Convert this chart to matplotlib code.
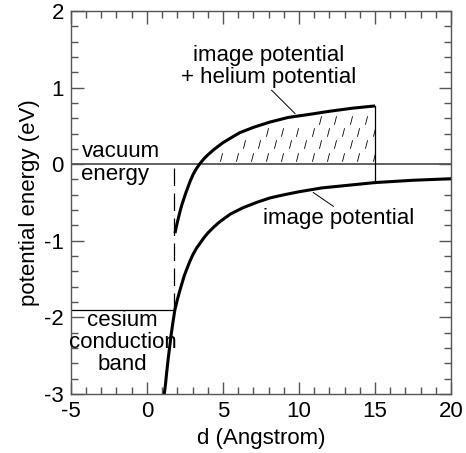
import matplotlib
matplotlib.use("Agg")
import matplotlib.pyplot as plt
from matplotlib.ticker import MultipleLocator
import numpy as np

plt.rcParams['font.family'] = ['Liberation Sans', 'DejaVu Sans']
plt.rcParams['axes.unicode_minus'] = False

# image potential
img_d = [1.14, 1.22, 1.3, 1.4, 1.5, 1.6, 1.7, 1.84, 2.0, 2.15, 2.3, 2.45, 2.6, 2.8, 3.0,
         3.25, 3.5, 3.75, 4.0, 4.4, 4.8, 5.5, 6.3, 7.2, 8.1, 9.0, 10.0, 11.5, 13.0,
         15.0, 17.5, 20.0]
img_v = [-3.0, -2.88, -2.72, -2.54, -2.38, -2.22, -2.08, -1.90, -1.77, -1.66, -1.56,
         -1.46, -1.38, -1.28, -1.19, -1.10, -1.03, -0.96, -0.90, -0.82, -0.75, -0.65,
         -0.57, -0.50, -0.44, -0.40, -0.36, -0.31, -0.28, -0.24, -0.21, -0.19]

# image potential + helium potential
he_d = [1.85, 1.92, 2.0, 2.1, 2.2, 2.3, 2.4, 2.55, 2.7, 2.85, 3.05, 3.25, 3.5, 3.75,
        4.0, 4.4, 5.0, 5.5, 6.1, 7.0, 8.1, 9.3, 10.7, 12.0, 13.5, 15.0]
he_v = [-0.90, -0.83, -0.76, -0.68, -0.60, -0.53, -0.47, -0.38, -0.30, -0.22, -0.13,
        -0.06, 0.01, 0.07, 0.12, 0.19, 0.28, 0.34, 0.41, 0.48, 0.55, 0.61, 0.65, 0.69,
        0.73, 0.76]

surface_d = 1.8      # edge of the cesium surface
cesium_band = -1.9   # conduction band level
vacuum = 0.0
cutoff_d = 15.0

fig = plt.figure(figsize=(4.66, 4.53), dpi=100)
ax = fig.add_axes([0.152, 0.130, 0.816, 0.846])

gray = "#555555"

# vacuum level
ax.axhline(vacuum, color=gray, lw=1.3, zorder=1)

# cesium band and surface
ax.plot([-5, surface_d], [cesium_band, cesium_band], color="black", lw=0.9)
ax.plot([surface_d, surface_d], [vacuum - 0.05, cesium_band], color="black",
        lw=0.9, dashes=(14, 6))

# hatched region between vacuum level and the upper curve
gx, gy = np.meshgrid(np.arange(3.9, 15.0, 1.0), np.arange(0.1, 0.75, 0.16))
gx = gx + (np.arange(gy.shape[0])[:, None] % 2) * 0.5
mask = (gx < cutoff_d) & (gy < np.interp(gx, he_d, he_v) - 0.07)
slash = [(-0.25, -1.0), (0.25, 1.0)]
ax.scatter(gx[mask], gy[mask], marker=slash, s=38, color="black", lw=0.6)

# curves
ax.plot(he_d, he_v, color="black", lw=2.2, solid_capstyle="butt",
        solid_joinstyle="round")
ax.plot(img_d, img_v, color="black", lw=2.2, solid_capstyle="butt",
        solid_joinstyle="round")
ax.plot([cutoff_d, cutoff_d], [np.interp(cutoff_d, img_d, img_v), he_v[-1]],
        color="black", lw=0.9)

# labels
fs = 16
ax.text(8.0, 1.42, "image potential", ha="center", va="center", fontsize=fs)
ax.text(8.0, 1.13, "+ helium potential", ha="center", va="center", fontsize=fs)
ax.plot([8.2, 9.74], [0.965, 0.66], color="black", lw=0.7)

ax.text(12.6, -0.71, "image potential", ha="center", va="center", fontsize=fs)
ax.plot([10.94, 12.26], [-0.37, -0.55], color="black", lw=0.7)

ax.text(-4.3, 0.16, "vacuum", ha="left", va="center", fontsize=fs)
ax.text(-4.3, -0.13, "energy", ha="left", va="center", fontsize=fs)

ax.text(-1.6, -2.04, "cesium", ha="center", va="center", fontsize=fs)
ax.text(-1.6, -2.33, "conduction", ha="center", va="center", fontsize=fs)
ax.text(-1.6, -2.62, "band", ha="center", va="center", fontsize=fs)

ax.set_xlim(-5, 20)
ax.set_ylim(-3, 2)
ax.xaxis.set_major_locator(MultipleLocator(5))
ax.xaxis.set_minor_locator(MultipleLocator(1))
ax.yaxis.set_major_locator(MultipleLocator(1))
ax.yaxis.set_minor_locator(MultipleLocator(0.2))
ax.tick_params(which="both", direction="in", top=True, right=True,
               color=gray, width=1, labelsize=fs, pad=5)
ax.tick_params(which="major", length=9)
ax.tick_params(which="minor", length=5)
for s in ax.spines.values():
    s.set_color(gray)
    s.set_linewidth(1)

ax.set_xlabel("d (Angstrom)", fontsize=fs, labelpad=4)
ax.set_ylabel("potential energy (eV)", fontsize=fs, labelpad=3)

fig.savefig("out.png", dpi=100)
